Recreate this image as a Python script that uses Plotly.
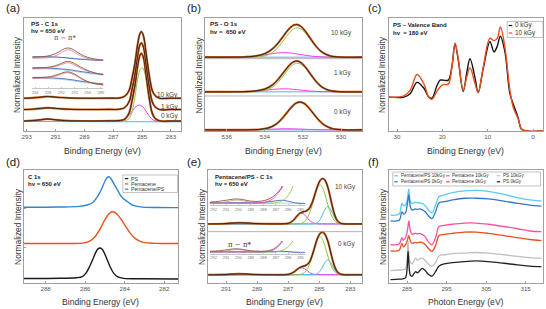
import plotly.graph_objects as go

# ------------------------------------------------------------------ DATA
# (a) PS - C 1s (binding energy, normalized intensity incl. stacking)
XA = [293.2, 292.6, 292.0, 291.6, 291.2, 290.6, 290.0, 289.0, 288.0, 287.2, 286.6, 286.2, 285.9, 285.7,
      285.5, 285.3, 285.15, 285.05, 284.9, 284.75, 284.6, 284.45, 284.3, 284.1, 283.8, 283.0, 282.3]
A_0KGY = [0.088, 0.092, 0.100, 0.106, 0.102, 0.094, 0.090, 0.089, 0.089, 0.090, 0.092, 0.106, 0.160, 0.268,
          0.400, 0.580, 0.670, 0.688, 0.646, 0.520, 0.376, 0.250, 0.160, 0.112, 0.090, 0.088, 0.088]
A_1KGY = [0.190, 0.193, 0.200, 0.205, 0.202, 0.196, 0.192, 0.190, 0.190, 0.191, 0.192, 0.208, 0.260, 0.367,
          0.497, 0.674, 0.762, 0.780, 0.739, 0.615, 0.473, 0.350, 0.260, 0.214, 0.190, 0.190, 0.190]
A_10KGY = [0.290, 0.293, 0.300, 0.305, 0.302, 0.296, 0.292, 0.290, 0.290, 0.291, 0.292, 0.308, 0.360, 0.467,
           0.597, 0.774, 0.862, 0.880, 0.839, 0.715, 0.573, 0.450, 0.360, 0.314, 0.290, 0.290, 0.290]
XA_BG = [293.2, 282.3]
A_BG = [0.084, 0.081]
XA_GREEN = [286.2, 285.9, 285.7, 285.5, 285.3, 285.15, 285.0, 284.85, 284.7, 284.5, 284.3, 284.0]
A_GREEN = [0.09, 0.11, 0.17, 0.30, 0.46, 0.54, 0.56, 0.53, 0.44, 0.27, 0.14, 0.09]
XA_MAG = [286.6, 286.2, 285.9, 285.6, 285.4, 285.2, 285.0, 284.8, 284.5, 284.2, 283.9]
A_MAG = [0.085, 0.10, 0.14, 0.19, 0.22, 0.23, 0.22, 0.19, 0.13, 0.095, 0.085]

# (a) inset: pi-pi* region
XI_A = [294.2, 293.5, 292.8, 292.2, 291.8, 291.5, 291.2, 290.8, 290.3, 289.8, 289.2, 288.8]
AI10_BR = [0.67, 0.68, 0.71, 0.78, 0.85, 0.87, 0.85, 0.78, 0.70, 0.65, 0.62, 0.61]
AI10_PK = [0.65, 0.65, 0.67, 0.73, 0.80, 0.83, 0.81, 0.74, 0.67, 0.63, 0.61, 0.60]
AI10_LB = [0.66, 0.66, 0.66, 0.66, 0.66, 0.66, 0.65, 0.64, 0.63, 0.62, 0.61, 0.60]
AI10_DB = [0.68, 0.68, 0.68, 0.67, 0.66, 0.65, 0.64, 0.63, 0.62, 0.61, 0.60, 0.60]
AI1_BR = [0.43, 0.44, 0.46, 0.51, 0.56, 0.58, 0.56, 0.50, 0.42, 0.36, 0.31, 0.29]
AI1_PK = [0.42, 0.42, 0.44, 0.49, 0.53, 0.55, 0.53, 0.47, 0.40, 0.35, 0.31, 0.29]
AI1_LB = [0.42, 0.42, 0.41, 0.40, 0.39, 0.38, 0.37, 0.35, 0.33, 0.31, 0.29, 0.28]
AI1_DB = [0.44, 0.44, 0.43, 0.42, 0.41, 0.40, 0.39, 0.37, 0.35, 0.33, 0.31, 0.30]
AI0_BR = [0.22, 0.23, 0.25, 0.30, 0.34, 0.35, 0.33, 0.27, 0.18, 0.12, 0.08, 0.07]
AI0_PK = [0.21, 0.21, 0.23, 0.28, 0.32, 0.33, 0.31, 0.25, 0.17, 0.12, 0.08, 0.07]
AI0_LB = [0.21, 0.21, 0.20, 0.19, 0.18, 0.17, 0.16, 0.14, 0.12, 0.10, 0.08, 0.07]
AI0_DB = [0.23, 0.23, 0.22, 0.21, 0.20, 0.19, 0.18, 0.16, 0.14, 0.12, 0.10, 0.09]
TICKS_AI = [294, 293, 292, 291, 290, 289]

# (b) PS - O 1s
XB = [537.15, 535.9, 535.1, 534.5, 534.0, 533.6, 533.3, 533.0, 532.75, 532.5, 532.3, 532.1, 531.85,
      531.6, 531.3, 531.0, 530.6, 530.1, 528.9]
XB0 = [537.15, 535.75, 534.95, 534.35, 533.85, 533.45, 533.15, 532.85, 532.6, 532.35, 532.15, 531.95,
       531.7, 531.45, 531.15, 530.85, 530.45, 529.95, 528.9]
B10_TOTAL = [1.96, 1.96, 1.966, 1.989, 2.054, 2.18, 2.337, 2.539, 2.701, 2.808, 2.825, 2.775, 2.634, 2.45,
             2.24, 2.094, 1.996, 1.964, 1.96]
B10_GREEN = [1.96, 1.96, 1.96, 1.964, 1.994, 2.086, 2.224, 2.419, 2.586, 2.707, 2.74, 2.707, 2.586, 2.419,
             2.224, 2.086, 1.994, 1.964, 1.96]
B10_MAG = [1.96, 1.96, 1.966, 1.985, 2.02, 2.054, 2.073, 2.08, 2.075, 2.061, 2.045, 2.028, 2.008, 1.991,
           1.976, 1.968, 1.962, 1.96, 1.96]
B1_TOTAL = [1.04, 1.04, 1.044, 1.061, 1.113, 1.224, 1.373, 1.568, 1.727, 1.835, 1.857, 1.814, 1.682, 1.509,
            1.309, 1.167, 1.075, 1.044, 1.04]
B1_GREEN = [1.04, 1.04, 1.04, 1.044, 1.073, 1.162, 1.298, 1.488, 1.65, 1.768, 1.80, 1.768, 1.65, 1.488,
            1.298, 1.162, 1.073, 1.044, 1.04]
B1_MAG = [1.04, 1.04, 1.044, 1.057, 1.08, 1.102, 1.115, 1.12, 1.117, 1.107, 1.097, 1.086, 1.072, 1.061,
          1.051, 1.045, 1.042, 1.04, 1.04]
B0_TOTAL = [0.03, 0.03, 0.031, 0.04, 0.077, 0.169, 0.302, 0.484, 0.637, 0.745, 0.771, 0.737, 0.62, 0.462,
            0.278, 0.148, 0.062, 0.034, 0.03]
B0_GREEN = [0.03, 0.03, 0.03, 0.034, 0.062, 0.146, 0.274, 0.454, 0.608, 0.72, 0.75, 0.72, 0.608, 0.454,
            0.274, 0.146, 0.062, 0.034, 0.03]
B0_MAG = [0.03, 0.03, 0.031, 0.036, 0.045, 0.053, 0.058, 0.06, 0.059, 0.055, 0.051, 0.047, 0.042, 0.038,
          0.034, 0.032, 0.03, 0.03, 0.03]
B_SEPARATORS = [0.93, 1.92]

# (c) PS valence band
XC = [31.8, 28.5, 27.1, 25.6, 24.1, 23.0, 22.3, 21.2, 20.5, 19.8, 18.7, 17.9, 17.2, 16.5, 15.4, 14.6,
      13.9, 12.8, 12.1, 11.0, 9.5, 8.6, 7.9, 7.2, 6.2, 5.1, 4.3, 3.3, 2.6, 1.5, -2.2]
C_0KGY = [0.30, 0.30, 0.33, 0.43, 0.38, 0.30, 0.29, 0.40, 0.45, 0.45, 0.45, 0.57, 0.77, 0.63, 0.35, 0.52,
          0.64, 0.47, 0.34, 0.55, 0.79, 0.70, 0.75, 0.84, 0.70, 0.33, 0.23, 0.12, 0.02, 0.0, 0.0]
C_10KGY = [0.30, 0.31, 0.36, 0.50, 0.42, 0.30, 0.28, 0.35, 0.39, 0.41, 0.415, 0.56, 0.78, 0.64, 0.36, 0.48,
           0.56, 0.42, 0.34, 0.56, 0.82, 0.80, 0.82, 0.92, 0.74, 0.36, 0.20, 0.11, 0.02, 0.0, 0.0]

# (d) C 1s comparison
XD_PS = [289.1, 287.25, 286.45, 286.15, 285.95, 285.75, 285.6, 285.45, 285.35, 285.25, 285.15, 285.05,
         284.9, 284.75, 284.55, 284.35, 284.05, 283.25, 281.3]
D_PS = [0.04, 0.042, 0.046, 0.056, 0.09, 0.155, 0.215, 0.275, 0.302, 0.31, 0.30, 0.273, 0.213, 0.148,
        0.085, 0.054, 0.041, 0.038, 0.035]
XD_PEN = [289.1, 287.12, 286.12, 285.72, 285.47, 285.22, 285.02, 284.82, 284.72, 284.62, 284.52, 284.37,
          284.17, 283.97, 283.72, 283.47, 283.12, 282.12, 281.3]
D_PEN = [0.35, 0.35, 0.353, 0.375, 0.416, 0.486, 0.553, 0.608, 0.624, 0.63, 0.626, 0.607, 0.561, 0.506,
         0.441, 0.395, 0.362, 0.35, 0.35]
XD_PPS = [289.1, 287.3, 286.3, 285.9, 285.6, 285.35, 285.15, 285.0, 284.9, 284.8, 284.7, 284.55, 284.35,
          284.15, 283.9, 283.6, 283.2, 282.3, 281.3]
D_PPS = [0.67, 0.672, 0.678, 0.69, 0.715, 0.77, 0.84, 0.90, 0.93, 0.94, 0.925, 0.88, 0.82, 0.76, 0.725,
         0.69, 0.674, 0.668, 0.667]

# (e) Pentacene/PS - C 1s
XE = [292.15, 291.15, 290.65, 290.15, 289.65, 289.15, 288.15, 287.35, 286.95, 286.65, 286.45, 286.25,
      286.05, 285.85, 285.65, 285.45, 285.25, 285.1, 284.95, 284.8, 284.65, 284.45, 284.25, 284.05,
      283.85, 283.65, 283.35, 282.95, 282.25]
E10_TOTAL = [1.15, 1.155, 1.165, 1.172, 1.168, 1.158, 1.152, 1.153, 1.165, 1.226, 1.298, 1.358, 1.385,
             1.40, 1.45, 1.57, 1.757, 1.897, 1.995, 2.035, 2.011, 1.865, 1.612, 1.367, 1.22, 1.166, 1.15,
             1.15, 1.15]
E10_GREEN = [1.15, 1.15, 1.15, 1.15, 1.15, 1.15, 1.15, 1.15, 1.15, 1.15, 1.152, 1.156, 1.174, 1.227,
             1.34, 1.525, 1.739, 1.863, 1.91, 1.863, 1.739, 1.525, 1.34, 1.227, 1.174, 1.156, 1.15,
             1.15, 1.15]
E10_BLUE = [1.15, 1.15, 1.15, 1.15, 1.15, 1.15, 1.15, 1.15, 1.15, 1.15, 1.15, 1.15, 1.15, 1.15, 1.15,
            1.151, 1.16, 1.182, 1.235, 1.322, 1.422, 1.49, 1.422, 1.29, 1.196, 1.16, 1.15, 1.15, 1.15]
E10_MAG = [1.15, 1.15, 1.15, 1.15, 1.15, 1.15, 1.15, 1.151, 1.165, 1.226, 1.296, 1.352, 1.352, 1.296,
           1.226, 1.178, 1.158, 1.152, 1.15, 1.15, 1.15, 1.15, 1.15, 1.15, 1.15, 1.15, 1.15, 1.15, 1.15]
E0_TOTAL = [0.16, 0.163, 0.172, 0.178, 0.174, 0.166, 0.161, 0.16, 0.17, 0.21, 0.259, 0.30, 0.325, 0.345,
            0.40, 0.545, 0.747, 0.884, 0.962, 0.99, 0.955, 0.815, 0.577, 0.354, 0.223, 0.174, 0.16,
            0.16, 0.16]
E0_GREEN = [0.16, 0.16, 0.16, 0.16, 0.16, 0.16, 0.16, 0.16, 0.16, 0.16, 0.162, 0.166, 0.184, 0.235,
            0.345, 0.525, 0.734, 0.854, 0.90, 0.854, 0.734, 0.525, 0.345, 0.235, 0.184, 0.166, 0.16,
            0.16, 0.16]
E0_BLUE = [0.16, 0.16, 0.16, 0.16, 0.16, 0.16, 0.16, 0.16, 0.16, 0.16, 0.16, 0.16, 0.16, 0.16, 0.16,
           0.161, 0.168, 0.188, 0.232, 0.307, 0.392, 0.45, 0.392, 0.279, 0.199, 0.168, 0.16, 0.16, 0.16]
E0_MAG = [0.16, 0.16, 0.16, 0.16, 0.16, 0.16, 0.16, 0.16, 0.17, 0.21, 0.257, 0.294, 0.294, 0.257, 0.21,
          0.179, 0.165, 0.162, 0.16, 0.16, 0.16, 0.16, 0.16, 0.16, 0.16, 0.16, 0.16, 0.16, 0.16]
E_SEPARATOR = 1.0

# (e) insets
XI_E_BR = [292.3, 291.5, 290.8, 290.2, 289.6, 289.0, 288.2, 287.6, 287.2, 286.9, 286.6, 286.3]
EI10_BR = [0.15, 0.20, 0.27, 0.32, 0.28, 0.20, 0.20, 0.30, 0.45, 0.62, 0.85, 1.3]
EI0_BR = [0.18, 0.22, 0.32, 0.38, 0.32, 0.22, 0.18, 0.22, 0.35, 0.55, 0.85, 1.3]
XI_E_MG = [292.3, 289.0, 288.2, 287.6, 287.2, 286.9, 286.6, 286.4, 286.2]
EI10_MG = [0.10, 0.10, 0.12, 0.20, 0.35, 0.55, 0.80, 1.0, 1.3]
EI0_MG = [0.12, 0.12, 0.13, 0.17, 0.27, 0.47, 0.77, 1.0, 1.3]
XI_E_GR = [292.3, 287.5, 287.0, 286.6, 286.2, 285.9, 285.7, 285.5]
EI10_GR = [0.10, 0.10, 0.12, 0.18, 0.35, 0.60, 0.85, 1.3]
EI0_GR = [0.12, 0.12, 0.14, 0.20, 0.38, 0.62, 0.88, 1.3]
XI_E_BL = [292.3, 290.0, 288.0, 287.0, 286.5, 286.0, 285.5, 285.0, 284.62]
EI10_BL = [0.12, 0.12, 0.14, 0.22, 0.25, 0.20, 0.12, 0.08, 0.07]
EI0_BL = [0.14, 0.14, 0.14, 0.16, 0.18, 0.15, 0.10, 0.07, 0.06]
XI_E_PP = [292.3, 291.3, 290.6, 290.1, 289.6, 288.9, 288.0]
EI10_PP = [0.10, 0.13, 0.22, 0.26, 0.22, 0.13, 0.10]
EI0_PP = [0.12, 0.15, 0.27, 0.32, 0.27, 0.15, 0.12]
XI_E_LB = [292.3, 284.62]
EI10_LB = [0.10, 0.10]
EI0_LB = [0.12, 0.12]
TICKS_EI = [292, 291, 290, 289, 288, 287, 286, 285]

# (f) NEXAFS
XF = [280.8, 283.0, 283.7, 284.1, 284.6, 285.0, 285.25, 285.45, 285.85, 286.3, 286.7, 287.2, 287.6, 288.0,
      288.8, 289.6, 290.3, 291.3, 292.2, 293.1, 294.5, 296.5, 299.5, 302.5, 305.5, 309.5, 313.0, 316.0,
      319.0]
F_PS0 = [0.03, 0.035, 0.035, 0.038, 0.045, 0.12, 0.28, 0.18, 0.07, 0.06, 0.08, 0.10, 0.09, 0.10, 0.13,
         0.11, 0.08, 0.06, 0.10, 0.15, 0.17, 0.18, 0.19, 0.195, 0.19, 0.175, 0.16, 0.15, 0.145]
F_PS10 = [0.11, 0.115, 0.115, 0.118, 0.125, 0.20, 0.37, 0.27, 0.18, 0.17, 0.19, 0.22, 0.20, 0.21, 0.22,
          0.20, 0.17, 0.15, 0.18, 0.24, 0.25, 0.26, 0.265, 0.27, 0.265, 0.25, 0.235, 0.225, 0.22]
F_PEN0 = [0.285, 0.29, 0.35, 0.32, 0.34, 0.37, 0.40, 0.42, 0.37, 0.35, 0.355, 0.36, 0.355, 0.36, 0.36,
          0.34, 0.31, 0.28, 0.33, 0.42, 0.43, 0.44, 0.45, 0.45, 0.44, 0.42, 0.40, 0.385, 0.375]
F_PEN10 = [0.34, 0.345, 0.40, 0.38, 0.40, 0.45, 0.50, 0.55, 0.46, 0.43, 0.435, 0.44, 0.435, 0.44, 0.43,
           0.41, 0.37, 0.34, 0.40, 0.50, 0.51, 0.52, 0.53, 0.53, 0.52, 0.50, 0.48, 0.46, 0.455]
F_PPS0 = [0.55, 0.555, 0.63, 0.61, 0.62, 0.68, 0.74, 0.78, 0.67, 0.645, 0.65, 0.655, 0.65, 0.655, 0.65,
          0.63, 0.60, 0.57, 0.63, 0.71, 0.72, 0.735, 0.75, 0.75, 0.745, 0.725, 0.705, 0.69, 0.68]
F_PPS10 = [0.60, 0.61, 0.705, 0.685, 0.69, 0.73, 0.79, 0.83, 0.72, 0.705, 0.71, 0.715, 0.71, 0.71, 0.705,
           0.685, 0.65, 0.62, 0.69, 0.765, 0.78, 0.80, 0.815, 0.82, 0.81, 0.785, 0.755, 0.735, 0.725]
F_NAMES = ["Pentacene/PS 10kGy", "Pentacene 10kGy", "PS 10kGy",
           "Pentacene/PS 0kGy", "Pentacene 0kGy", "PS 0kGy"]
C_NAMES = ["0 kGy", "10 kGy"]
D_NAMES = ["PS", "Pentacene", "Pentacene/PS"]

# ------------------------------------------------------------------ STYLE / LAYOUT
W, H = 546, 309
FONT = "Liberation Sans, Arial, Helvetica, sans-serif"
AX_COL = "#a0a0a0"
TICK_COL = "#555555"
DARK = "#2a1a12"
HALO = "#c8642a"
GREEN = "#8cc63f"
MAG = "#f03cf0"
LBLUE = "#58b4e8"
DBLUE = "#3a4fa8"
ORANGE = "#e8501e"
BLUE_D = "#2e86d1"
F_COLORS = ["#5bc8f5", "#ff4fa0", "#c0c0c0", "#3378c8", ORANGE, "#222222"]


def PX(x):
    return x / W


def PY(y):
    return 1 - y / H


def aid(n):
    return "" if n == 1 else str(n)


fig = go.Figure()


def add(n, x, y, color, width, shape="spline"):
    fig.add_trace(go.Scatter(
        x=x, y=y, mode="lines", xaxis="x" + aid(n), yaxis="y" + aid(n),
        line=dict(color=color, width=width, shape=shape),
        showlegend=False, hoverinfo="skip"))


def total(n, x, y):
    add(n, x, y, HALO, 2.1)
    add(n, x, y, DARK, 0.9)


# (a)
add(1, XA_BG, A_BG, LBLUE, 1.0, "linear")
add(1, XA_MAG, A_MAG, MAG, 1.0)
add(1, XA_GREEN, A_GREEN, GREEN, 1.0)
total(1, XA, A_0KGY)
total(1, XA, A_1KGY)
total(1, XA, A_10KGY)
for br, pk, lb, db in [(AI10_BR, AI10_PK, AI10_LB, AI10_DB), (AI1_BR, AI1_PK, AI1_LB, AI1_DB),
                       (AI0_BR, AI0_PK, AI0_LB, AI0_DB)]:
    add(7, XI_A, lb, "#8fd3ee", 0.8)
    add(7, XI_A, db, DBLUE, 0.8)
    add(7, XI_A, pk, "#e07a9a", 0.8)
    add(7, XI_A, br, "#8b5a3c", 0.9)

# (b)
for tot, grn, mag, xx, base in [(B0_TOTAL, B0_GREEN, B0_MAG, XB0, B0_TOTAL[0]),
                                (B1_TOTAL, B1_GREEN, B1_MAG, XB, B1_TOTAL[0]),
                                (B10_TOTAL, B10_GREEN, B10_MAG, XB, B10_TOTAL[0])]:
    add(2, [xx[0], xx[-1]], [base, base], LBLUE, 1.0, "linear")
    add(2, xx, mag, MAG, 1.0)
    add(2, xx, grn, GREEN, 1.0)
    total(2, xx, tot)

# (c)
add(3, XC, C_0KGY, "#111111", 1.4)
add(3, XC, C_10KGY, ORANGE, 1.4)

# (d)
add(4, XD_PS, D_PS, "#1a1a1a", 1.4)
add(4, XD_PEN, D_PEN, ORANGE, 1.4)
add(4, XD_PPS, D_PPS, BLUE_D, 1.4)

# (e)
for tot, grn, blu, mag in [(E10_TOTAL, E10_GREEN, E10_BLUE, E10_MAG),
                           (E0_TOTAL, E0_GREEN, E0_BLUE, E0_MAG)]:
    add(5, [XE[0], XE[-1]], [tot[0], tot[0]], LBLUE, 1.0, "linear")
    add(5, XE, mag, MAG, 1.0)
    add(5, XE, blu, LBLUE, 1.0)
    add(5, XE, grn, GREEN, 1.0)
    total(5, XE, tot)
for n, br, mg, gr, bl, pp, lb in [(8, EI10_BR, EI10_MG, EI10_GR, EI10_BL, EI10_PP, EI10_LB),
                                  (9, EI0_BR, EI0_MG, EI0_GR, EI0_BL, EI0_PP, EI0_LB)]:
    add(n, XI_E_LB, lb, "#8fd3ee", 0.8, "linear")
    add(n, XI_E_BL, bl, DBLUE, 0.8)
    add(n, XI_E_PP, pp, "#c9a070", 0.8)
    add(n, XI_E_GR, gr, GREEN, 0.8)
    add(n, XI_E_MG, mg, MAG, 0.8)
    add(n, XI_E_BR, br, "#8b5a3c", 0.9)

# (f)
for y, col in zip([F_PPS10, F_PEN10, F_PS10, F_PPS0, F_PEN0, F_PS0], F_COLORS):
    add(6, XF, y, col, 1.3)

# ---- axes
PANELS = {
    1: dict(x=(22, 180), y=(18, 131), xr=[293.2, 282.3], yr=[0, 1], xt=[293, 291, 289, 287, 285, 283]),
    2: dict(x=(204, 362), y=(18, 131), xr=[537.15, 528.9], yr=[0, 3], xt=[536, 534, 532, 530]),
    3: dict(x=(389, 544), y=(18, 131), xr=[31.8, -2.2], yr=[0, 1], xt=[30, 20, 10, 0]),
    4: dict(x=(22, 177), y=(170, 283), xr=[289.1, 281.3], yr=[0, 1], xt=[288, 286, 284, 282]),
    5: dict(x=(207, 362), y=(170, 283), xr=[292.17, 282.25], yr=[0, 2.2], xt=[291, 289, 287, 285, 283]),
    6: dict(x=(389, 544), y=(170, 283), xr=[280.4, 319.4], yr=[0, 1], xt=[285, 295, 305, 315]),
}
INSETS = {
    7: dict(x=(30, 102), y=(42, 88), xr=[294.25, 288.8], yr=[0, 1], xt=TICKS_AI),
    8: dict(x=(209, 305), y=(186, 205), xr=[292.3, 284.62], yr=[0, 1], xt=TICKS_EI),
    9: dict(x=(209, 305), y=(241, 253.5), xr=[292.3, 284.62], yr=[0, 1], xt=TICKS_EI),
}
lay = {}
for n, p in PANELS.items():
    lay["xaxis" + aid(n)] = dict(
        domain=[PX(p["x"][0]), PX(p["x"][1])], range=p["xr"], anchor="y" + aid(n),
        showline=True, mirror=True, linecolor=AX_COL, linewidth=0.8, ticks="inside", ticklen=2,
        tickwidth=0.6, tickcolor=AX_COL, tickvals=p["xt"], tickfont=dict(size=6.2, color=TICK_COL, family=FONT),
        showgrid=False, zeroline=False, fixedrange=True)
    lay["yaxis" + aid(n)] = dict(
        domain=[PY(p["y"][1]), PY(p["y"][0])], range=p["yr"], anchor="x" + aid(n),
        showline=True, mirror=True, linecolor=AX_COL, linewidth=0.8, showticklabels=False,
        ticks="", showgrid=False, zeroline=False, fixedrange=True)
lay["yaxis4"].update(ticks="inside", ticklen=2.5, tickwidth=0.6, tickcolor=AX_COL, tickvals=[0.31, 0.66])
for n, p in INSETS.items():
    lay["xaxis" + aid(n)] = dict(
        domain=[PX(p["x"][0]), PX(p["x"][1])], range=p["xr"], anchor="y" + aid(n),
        showline=True, mirror=False, linecolor="#c4c4c4", linewidth=0.6, ticks="inside", ticklen=1.5,
        tickwidth=0.5, tickcolor="#c4c4c4", tickvals=p["xt"],
        tickfont=dict(size=4, color="#777777", family=FONT), showgrid=False, zeroline=False, fixedrange=True)
    lay["yaxis" + aid(n)] = dict(
        domain=[PY(p["y"][1]), PY(p["y"][0])], range=p["yr"], anchor="x" + aid(n),
        visible=False, fixedrange=True)

# ---- shapes (separators, legend boxes)
shapes = []
for yv in B_SEPARATORS:
    shapes.append(dict(type="line", xref="paper", yref="y2", x0=PX(204), x1=PX(362), y0=yv, y1=yv,
                       line=dict(color=AX_COL, width=0.8)))
shapes.append(dict(type="line", xref="paper", yref="y5", x0=PX(207), x1=PX(362), y0=E_SEPARATOR,
                   y1=E_SEPARATOR, line=dict(color=AX_COL, width=0.8)))

ann = []


def text(x, y, s, size, color="#222222", xanchor="left", bold=False, family=FONT, angle=0):
    ann.append(dict(xref="paper", yref="paper", x=PX(x), y=PY(y), text=("<b>%s</b>" % s) if bold else s,
                    showarrow=False, xanchor=xanchor, yanchor="middle", textangle=angle,
                    font=dict(size=size, color=color, family=family)))


def legend_box(x0, y0, x1, y1):
    shapes.append(dict(type="rect", xref="paper", yref="paper", x0=PX(x0), x1=PX(x1), y0=PY(y1), y1=PY(y0),
                       line=dict(color="#9a9a9a", width=0.6), fillcolor="white", layer="above"))


def legend_item(x, y, name, color, size, seg):
    shapes.append(dict(type="line", xref="paper", yref="paper", x0=PX(x), x1=PX(x + seg), y0=PY(y), y1=PY(y),
                       line=dict(color=color, width=1.2), layer="above"))
    text(x + seg + 0.8, y, name, size, "#333333")


# (c) legend
legend_box(508, 21.5, 544, 37.5)
legend_item(509.5, 25.5, C_NAMES[0], "#111111", 6.4, 3.5)
legend_item(509.5, 33, C_NAMES[1], ORANGE, 6.4, 3.5)
# (d) legend
legend_box(121.5, 175, 176.5, 192.5)
for i, (nm, col) in enumerate(zip(D_NAMES, ["#1a1a1a", ORANGE, BLUE_D])):
    legend_item(123.5, 178.6 + 5.3 * i, nm, col, 5.2, 3.5)
# (f) legend
legend_box(393, 172, 541.5, 186)
cols_x = [394.5, 446.5, 497.5]
for i, (nm, col) in enumerate(zip(F_NAMES, F_COLORS)):
    legend_item(cols_x[i % 3], 175.8 if i < 3 else 181.8, nm, col, 4.6, 3.5)

# panel letters
for s, x, y in [("(a)", 2, 8), ("(b)", 184, 8), ("(c)", 366, 8), ("(d)", 2, 162), ("(e)", 184, 162),
                ("(f)", 366, 162)]:
    text(x, y, s, 11.5, "#222222")

# axis titles
for n, p in PANELS.items():
    cx = (p["x"][0] + p["x"][1]) / 2
    ty = 151 if n <= 3 else 301.5
    text(cx, ty, "Photon Energy (eV)" if n == 6 else "Binding Energy (eV)", 8.6, "#333333", "center")
for x, y in [(15.5, 74.5), (199, 74.5), (382.5, 74.5), (15.5, 226.5), (200.5, 226.5), (382.5, 226.5)]:
    text(x, y, "Normalized Intensity", 8.4, "#333333", "center", angle=-90)

# in-panel labels
text(27, 23, "PS - C 1s", 6.2, bold=True)
text(27, 30.5, "hv = 650 eV", 6.2, bold=True)
text(63, 38, "π − π*", 6.6, "#333333", "center", family="DejaVu Serif, serif")
text(179, 95.5, "10 kGy", 6.4, "#444444", "right")
text(179, 106.5, "1 kGy", 6.4, "#444444", "right")
text(179, 116, "0 kGy", 6.4, "#444444", "right")

text(207, 23, "PS - O 1s", 6.2, bold=True)
text(207, 31, "hv =  650 eV", 6.2, bold=True)
text(341, 33, "10 kGy", 6.4, "#444444", "center")
text(342, 73, "1 kGy", 6.4, "#444444", "center")
text(342, 111.5, "0 kGy", 6.4, "#444444", "center")

text(391, 24.5, "PS – Valence Band", 6.0, bold=True)
text(391, 32.5, "hv  = 180 eV", 6.0, bold=True)

text(24, 176.5, "C 1s", 6.0, bold=True)
text(24, 183.5, "hv = 650 eV", 6.0, bold=True)

text(212, 176.5, "Pentacene/PS - C 1s", 6.0, bold=True)
text(212, 183.5, "hv = 650 eV", 6.0, bold=True)
text(345, 187.5, "10 kGy", 6.4, "#444444", "center")
text(346, 243.5, "0 kGy", 6.4, "#444444", "center")
text(239, 244.5, "π − π*", 7, "#333333", "center", family="DejaVu Serif, serif")

fig.update_layout(
    width=W, height=H, margin=dict(l=0, r=0, t=0, b=0, pad=0),
    paper_bgcolor="white", plot_bgcolor="rgba(0,0,0,0)",
    font=dict(family=FONT, size=7, color="#333333"),
    showlegend=False, shapes=shapes, annotations=ann, **lay)

fig.write_html("out.html")
